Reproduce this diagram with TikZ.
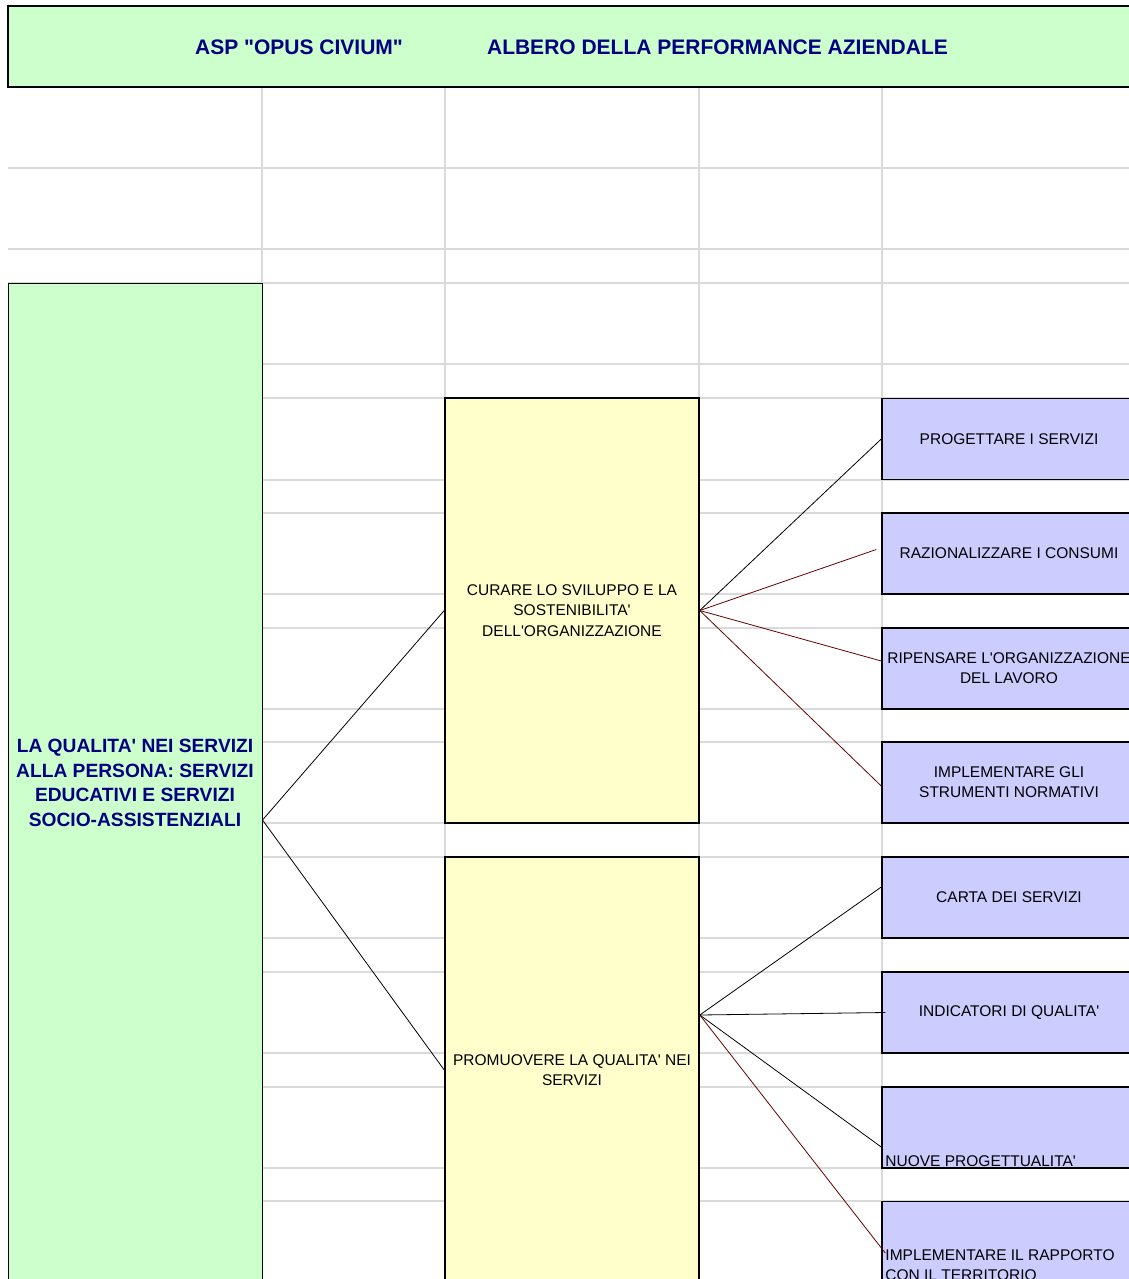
\documentclass[tikz,border=0pt]{standalone}
\usepackage{fontspec}
\newfontfamily\arial{Liberation Sans}
\definecolor{hdrgreen}{HTML}{CCFFCC}
\definecolor{areayellow}{HTML}{FFFFCC}
\definecolor{objblue}{HTML}{CCCCFF}
\definecolor{navytext}{HTML}{000080}
\definecolor{gridgray}{HTML}{DADADA}
\definecolor{linkred}{HTML}{660000}

\begin{document}
\begin{tikzpicture}[x=1pt,y=-1pt,
  gridline/.style={draw=gridgray,line width=1.5pt},
  titletext/.style={text=navytext,inner sep=0pt,font=\arial\bfseries\fontsize{21}{24}\selectfont},
  goalbox/.style={draw=black,fill=hdrgreen,line width=1pt,minimum width=254pt,inner sep=0pt,align=center,
    text=navytext,font=\arial\bfseries\fontsize{19.2}{24.5}\selectfont},
  areabox/.style={draw=black,fill=areayellow,line width=1.5pt,minimum width=254pt,inner sep=0pt,align=center,
    font=\arial\fontsize{15.5}{20.5}\selectfont},
  objbox/.style={draw=black,fill=objblue,line width=1.5pt,minimum width=254pt,minimum height=81pt,inner sep=0pt,
    align=center,font=\arial\fontsize{15.5}{20}\selectfont},
  objlabel/.style={anchor=south west,inner xsep=4pt,inner ysep=2pt,align=left,font=\arial\fontsize{15.5}{20}\selectfont},
  link/.style={draw=black,line width=0.8pt},
  redlink/.style={draw=linkred,line width=0.8pt}]
\useasboundingbox (0,0) rectangle (1129,1279);
\clip (0,0) rectangle (1129,1279);
\fill[white] (0,0) rectangle (1129,1279);

\foreach \y in {168,249,283,364,398,480,513,594,628,709,742,823,857,938,972,1053,1087,1168,1201}
  \draw[gridline] (8,\y) -- (1129,\y);
\foreach \x in {262,445,699,882}
  \draw[gridline] (\x,87) -- (\x,1279);

\node[draw=black,fill=hdrgreen,line width=1.2pt,minimum width=1128pt,minimum height=81pt,inner sep=0pt] (header) at (572,46.5) {};
\node[titletext] (asp) at (299,47) {ASP "OPUS CIVIUM"};
\node[titletext] (albero) at (717.5,47) {ALBERO DELLA PERFORMANCE AZIENDALE};

\node[goalbox,minimum height=1000pt] (qualita) at (135,783)
  {LA QUALITA' NEI SERVIZI\\ALLA PERSONA: SERVIZI\\EDUCATIVI E SERVIZI\\SOCIO-ASSISTENZIALI};

\node[areabox,minimum height=425pt] (sviluppo) at (572,610.5)
  {CURARE LO SVILUPPO E LA\\SOSTENIBILITA'\\DELL'ORGANIZZAZIONE};
\node[areabox,minimum height=426pt] (promuovere) at (572,1070)
  {PROMUOVERE LA QUALITA' NEI\\SERVIZI};

\node[objbox] (progettare) at (1009,439) {PROGETTARE I SERVIZI};
\node[objbox] (consumi) at (1009,553.5) {RAZIONALIZZARE I CONSUMI};
\node[objbox] (ripensare) at (1009,668.5) {RIPENSARE L'ORGANIZZAZIONE\\DEL LAVORO};
\node[objbox] (normativi) at (1009,782.5) {IMPLEMENTARE GLI\\STRUMENTI NORMATIVI};
\node[objbox] (carta) at (1009,897.5) {CARTA DEI SERVIZI};
\node[objbox] (indicatori) at (1009,1012.5) {INDICATORI DI QUALITA'};
\node[objbox,label={[objlabel]south west:NUOVE PROGETTUALITA'}] (nuove) at (1009,1127.5) {};
\node[objbox,label={[objlabel]south west:{IMPLEMENTARE IL RAPPORTO\\CON IL TERRITORIO}}] (territorio) at (1009,1242) {};

\draw[link] ([yshift=-37pt]qualita.east) -- (sviluppo.west);
\draw[link] ([yshift=-37pt]qualita.east) -- (promuovere.west);

\draw[link] (sviluppo.east) -- (progettare.west);
\draw[redlink] (sviluppo.east) -- ([xshift=-5pt,yshift=4pt]consumi.west);
\draw[redlink] (sviluppo.east) -- ([yshift=7.5pt]ripensare.west);
\draw[redlink] (sviluppo.east) -- ([yshift=-3.5pt]normativi.west);

\draw[link] ([yshift=55pt]promuovere.east) -- ([yshift=10.5pt]carta.west);
\draw[link] ([yshift=55pt]promuovere.east) -- ([xshift=4pt]indicatori.west);
\draw[link] ([yshift=55pt]promuovere.east) -- ([yshift=-19.5pt]nuove.west);
\draw[redlink] ([yshift=55pt]promuovere.east) -- ([xshift=4pt,yshift=-11pt]territorio.west);
\end{tikzpicture}
\end{document}
